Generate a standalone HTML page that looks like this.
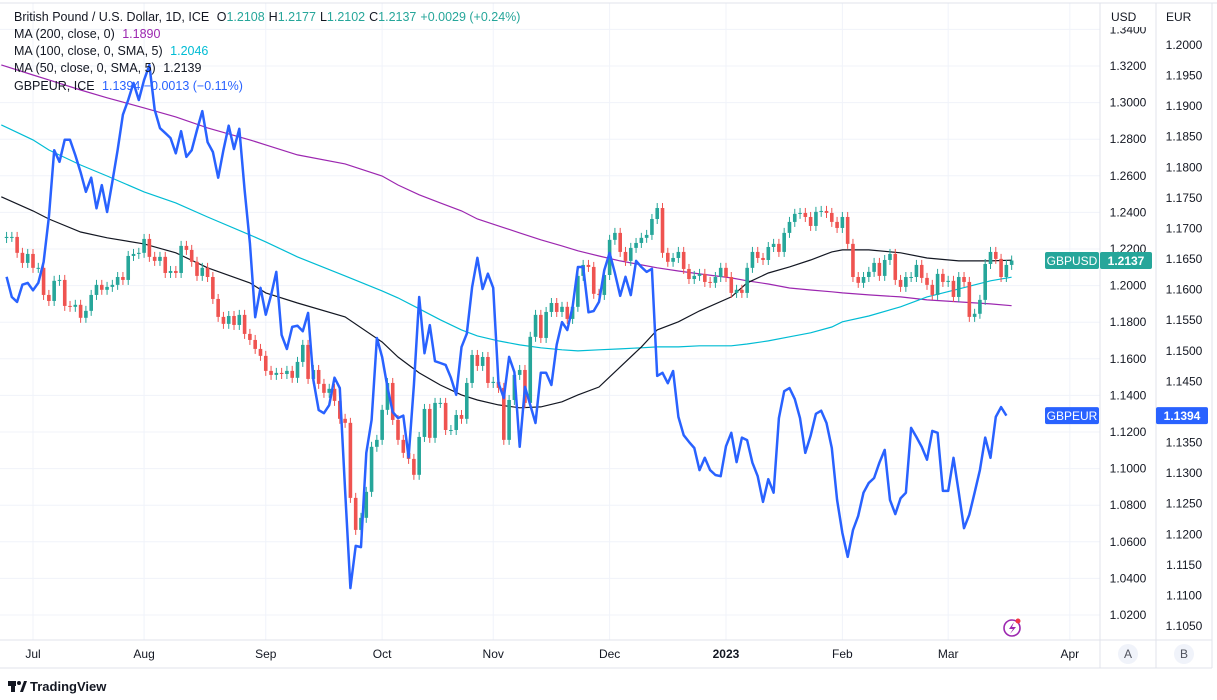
<!DOCTYPE html>
<html><head><meta charset="utf-8"><style>
html,body{margin:0;padding:0;background:#fff;}
svg{display:block;font-family:"Liberation Sans",sans-serif;}
</style></head><body>
<svg id="chart" width="1217" height="700" viewBox="0 0 1217 700" xmlns="http://www.w3.org/2000/svg">
<rect x="0" y="0" width="1217" height="700" fill="#fff"/>
<g id="grid"></g>
<g id="ma"></g>
<g id="candles"></g>
<g id="eur"></g>
<g id="axes"></g>
<g font-size="12.5" fill="#131722">
<text x="14" y="21">British Pound / U.S. Dollar, 1D, ICE <tspan dx="4">O</tspan><tspan fill="#26a69a">1.2108</tspan><tspan dx="4">H</tspan><tspan fill="#26a69a">1.2177</tspan><tspan dx="4">L</tspan><tspan fill="#26a69a">1.2102</tspan><tspan dx="4">C</tspan><tspan fill="#26a69a">1.2137</tspan><tspan dx="4" fill="#26a69a">+0.0029 (+0.24%)</tspan></text>
<text x="14" y="38">MA (200, close, 0) <tspan dx="4" fill="#9c27b0">1.1890</tspan></text>
<text x="14" y="55">MA (100, close, 0, SMA, 5) <tspan dx="4" fill="#00bcd4">1.2046</tspan></text>
<text x="14" y="72">MA (50, close, 0, SMA, 5) <tspan dx="4">1.2139</tspan></text>
<text x="14" y="90">GBPEUR, ICE <tspan dx="4" fill="#2962ff">1.1394 −0.0013 (−0.11%)</tspan></text>
</g>
<g>
<circle cx="1012" cy="628" r="8" fill="none" stroke="#9c27b0" stroke-width="1.6"/>
<path d="M1014 622 L1009 629 L1013 629 L1010 634 L1016 627 L1012 627 Z" fill="#9c27b0"/>
<circle cx="1018" cy="621" r="2.5" fill="#f23645"/>
</g>
<g>
<rect x="8" y="681" width="8" height="5" fill="#131722"/><rect x="11" y="686" width="4" height="6" fill="#131722"/><circle cx="19" cy="683" r="2" fill="#131722"/><path d="M20 692 L24 681 L27 681 L23 692 Z" fill="#131722"/>
<text x="30" y="691" font-size="13" fill="#131722" font-weight="bold">TradingView</text>
</g>
</svg>
<script>
const closes=[1.2266,1.2266,1.2179,1.2124,1.2173,1.2097,1.2097,1.1949,1.1916,1.2026,1.2031,1.1889,1.1884,1.1895,1.1824,1.1862,1.1949,1.2004,1.1977,1.1993,1.2004,1.2047,1.2031,1.2162,1.2173,1.2179,1.2255,1.2157,1.2135,1.2157,1.2069,1.2080,1.2069,1.2217,1.2195,1.2130,1.2053,1.2097,1.2047,1.1927,1.1829,1.1791,1.1834,1.1785,1.1840,1.1736,1.1703,1.1654,1.1616,1.1534,1.1512,1.1523,1.1517,1.1534,1.1496,1.1583,1.1676,1.1490,1.1539,1.1463,1.1414,1.1436,1.1370,1.1272,1.1250,
1.0840,1.0665,1.0731,1.0873,1.1119,1.1157,1.1321,1.1468,1.1266,1.1157,1.1086,1.1053,1.0966,1.1173,1.1326,1.1168,1.1359,1.1359,1.1211,1.1211,1.1293,1.1272,1.1468,1.1621,1.1561,1.1610,1.1468,1.1474,1.1441,1.1157,1.1375,1.1512,1.1539,1.1359,1.1720,1.1840,1.1714,1.1856,1.1905,1.1856,1.1884,1.1818,1.1884,1.2053,1.2113,1.2102,1.1955,1.1949,1.2058,1.2250,1.2288,1.2184,1.2135,1.2206,1.2233,1.2261,1.2277,1.2364,1.2424,1.2179,1.2130,1.2151,1.2184,1.2091,1.2036,1.2053,1.2064,
1.2020,1.2015,1.2047,1.2097,1.2047,1.1960,1.1977,1.1960,1.2097,1.2184,1.2151,1.2140,1.2211,1.2228,1.2184,1.2288,1.2348,1.2392,1.2397,1.2375,1.2326,1.2403,1.2408,1.2397,1.2348,1.2315,1.2375,1.2228,1.2047,1.2015,1.2047,1.2075,1.2124,1.2053,1.2140,1.2173,1.2031,1.1993,1.2047,1.2047,1.2113,1.2042,1.2004,1.1949,1.2064,1.2020,1.2026,1.1938,1.2047,1.2020,1.1829,1.1846,1.1922,1.2118,1.2184,1.2146,1.2047,1.2113,1.2137];
const firstOpen=1.2260;
const eurVals=[1.1621,1.1588,1.1580,1.1608,1.1611,1.1599,1.1611,1.1645,1.1719,1.1828,1.1809,1.1845,1.1845,1.1820,1.1792,1.1760,1.1783,1.1733,1.1771,1.1727,1.1776,1.1828,1.1886,1.1910,1.1938,1.1910,1.1943,1.1967,1.1894,1.1864,1.1856,1.1848,1.1823,1.1859,1.1817,1.1828,1.1861,1.1892,1.1841,1.1825,1.1783,1.1828,1.1868,1.1830,1.1863,1.1763,1.1676,1.1555,1.1603,1.1559,1.1591,1.1629,1.1526,1.1503,1.1539,1.1541,1.1532,1.1562,1.1452,1.1403,1.1398,1.1411,1.1456,1.1439,1.1272,1.1112,1.1181,1.1179,1.1333,1.1387,1.1521,1.1490,1.1441,1.1400,1.1390,1.1394,1.1326,1.1444,1.1588,1.1496,1.1542,1.1483,1.1480,1.1477,1.1456,1.1428,1.1506,1.1528,1.1604,1.1652,1.1601,1.1626,1.1603,1.1447,1.1423,1.1490,1.1465,1.1343,1.1441,1.1411,1.1382,1.1464,1.1464,1.1444,1.1510,1.1547,1.1534,1.1572,1.1637,1.1637,1.1563,1.1565,1.1580,1.1632,1.1660,1.1627,1.1590,1.1621,1.1591,1.1647,1.1637,1.1629,1.1634,1.1459,1.1464,1.1447,1.1467,1.1392,1.1362,1.1351,1.1341,1.1305,1.1325,1.1305,1.1297,1.1295,1.1344,1.1366,1.1318,1.1358,1.1354,1.1317,1.1295,1.1253,1.1290,1.1268,1.1390,1.1434,1.1439,1.1421,1.1390,1.1333,1.1361,1.1397,1.1402,1.1382,1.1341,1.1256,1.1202,1.1163,1.1207,1.1230,1.1268,1.1284,1.1292,1.1317,1.1338,1.1256,1.1233,1.1259,1.1268,1.1374,1.1359,1.1343,1.1322,1.1369,1.1366,1.1271,1.1271,1.1325,1.1268,1.1210,1.1232,1.1268,1.1305,1.1358,1.1325,1.1392,1.1408,1.1394];
const maIdx=[-1,5,8,14,19,26,32,38,46,49,55,64,71,74,78,82,86,89,93,97,101,105,108,112,116,120,123,127,131,137,140,144,148,152,156,158,163,169,174,180,186,190];
const ma50=[1.2485,1.2408,1.2364,1.2293,1.2261,1.2228,1.2179,1.2097,1.2015,1.1960,1.1905,1.1829,1.1692,1.1610,1.1523,1.1457,1.1403,1.1375,1.1348,1.1332,1.1337,1.1365,1.1403,1.1446,1.1556,1.1665,1.1758,1.1802,1.1862,1.1938,1.2015,1.2069,1.2102,1.2140,1.2184,1.2195,1.2195,1.2179,1.2151,1.2135,1.2135,1.2139];
const ma100=[1.2878,1.2796,1.2741,1.2659,1.2599,1.2512,1.2452,1.2375,1.2277,1.2239,1.2157,1.2053,1.1971,1.1933,1.1873,1.1813,1.1758,1.1725,1.1698,1.1676,1.1660,1.1649,1.1643,1.1649,1.1654,1.1660,1.1665,1.1665,1.1671,1.1671,1.1681,1.1698,1.1720,1.1742,1.1774,1.1802,1.1834,1.1884,1.1938,1.1982,1.2026,1.2046];
const ma200=[1.3206,1.3151,1.3124,1.3069,1.3026,1.2971,1.2922,1.2862,1.2796,1.2769,1.2714,1.2665,1.2599,1.2550,1.2496,1.2452,1.2408,1.2364,1.2326,1.2288,1.2250,1.2217,1.2190,1.2162,1.2135,1.2113,1.2097,1.2080,1.2064,1.2042,1.2026,1.2009,1.1987,1.1976,1.1966,1.1960,1.1949,1.1938,1.1922,1.1911,1.1900,1.1890];
const usdTicks=[1.34,1.32,1.30,1.28,1.26,1.24,1.22,1.20,1.18,1.16,1.14,1.12,1.10,1.08,1.06,1.04,1.02];
const eurTicks=[1.200,1.195,1.190,1.185,1.180,1.175,1.170,1.165,1.160,1.155,1.150,1.145,1.140,1.135,1.130,1.125,1.120,1.115,1.110,1.105];
const monthLabels=["Jul","Aug","Sep","Oct","Nov","Dec","2023","Feb","Mar","Apr"];
const monthIdx=[5,26,49,71,92,114,136,158,178,201];

const NS="http://www.w3.org/2000/svg";
const PR=1100;
const xB=i=>33+(i-5)*5.29;
const yU=v=>66+(1.32-v)*1830;
const yE=v=>45+(1.2-v)*6116;
function mk(tag,attrs,parent){const e=document.createElementNS(NS,tag);for(const k in attrs)e.setAttribute(k,attrs[k]);parent.appendChild(e);return e;}
const grid=document.getElementById('grid'),axes=document.getElementById('axes'),cg=document.getElementById('candles'),mg=document.getElementById('ma'),eg=document.getElementById('eur');

usdTicks.forEach(v=>{const y=yU(v);
 const l=mk('line',{x1:0,x2:PR,y1:y,y2:y,stroke:'#f0f3fa','stroke-width':1},grid);
 
 
 const t=mk('text',{x:1128,y:y+4,'text-anchor':'middle','font-size':12,fill:'#131722'},axes);
 t.textContent=v.toFixed(4);
 
 
});
eurTicks.forEach(v=>{const y=yE(v);
 const t=mk('text',{x:1184,y:y+4,'text-anchor':'middle','font-size':12,fill:'#131722'},axes);
 t.textContent=v.toFixed(4);
 
 
});
monthLabels.forEach((m,k)=>{const x=xB(monthIdx[k]);
 const l=mk('line',{x1:x,x2:x,y1:3,y2:640,stroke:'#f0f3fa','stroke-width':1},grid);
 
 
 const t=mk('text',{x:x,y:658,'text-anchor':'middle','font-size':12,fill:'#131722','font-weight':m==='2023'?'bold':'normal'},axes);
 t.textContent=m;
 
 
});
// header cover (clips top tick label)
const hc=mk('rect',{x:1101,y:4,width:110,height:23,fill:'#fff'},axes);


// frame lines
[[0,3,1217,3],[0,640,1212,640],[0,668,1212,668],[1100,3,1100,668],[1156,3,1156,668],[1212,3,1212,668]].forEach(c=>{
 const l=mk('line',{x1:c[0],y1:c[1],x2:c[2],y2:c[3],stroke:'#e0e3eb','stroke-width':1},axes);
 
 
});
// axis headers
[['USD',1111],['EUR',1166]].forEach(h=>{const t=mk('text',{x:h[1],y:21,'font-size':12,fill:'#131722'},axes);t.textContent=h[0];
 
 });
[['A',1128],['B',1184]].forEach(h=>{const g=mk('g',{},axes);
 
 
 mk('circle',{cx:h[1],cy:654,r:10,fill:'#f0f3fa'},g);
 const t=mk('text',{x:h[1],y:658,'text-anchor':'middle','font-size':12,fill:'#50535e'},g);t.textContent=h[0];});

// moving averages
function ln(vals,col,name){const d=maIdx.map((i,k)=>(k?'L':'M')+xB(i).toFixed(1)+' '+yU(vals[k]).toFixed(1)).join(' ');
 const p=mk('path',{d:d,fill:'none',stroke:col,'stroke-width':1.2},mg);
 
 }
ln(ma200,'#9c27b0','ma200-line');ln(ma100,'#00bcd4','ma100-line');ln(ma50,'#131722','ma50-line');

// candles
closes.forEach((c,i)=>{const o=i?closes[i-1]:firstOpen;const up=c>=o;const col=up?'#26a69a':'#ef5350';
 const x=xB(i);const top=yU(Math.max(o,c)),bot=yU(Math.min(o,c));
 const g=mk('g',{},cg);
 
 
 mk('line',{x1:x,x2:x,y1:top-5,y2:bot+5,stroke:col,'stroke-width':1},g);
 mk('rect',{x:x-1.8,y:top,width:3.6,height:Math.max(1,bot-top),fill:col},g);
});

// GBPEUR line
const d=eurVals.map((v,i)=>(i?'L':'M')+xB(i).toFixed(1)+' '+yE(v).toFixed(1)).join(' ');
const ep=mk('path',{d:d,fill:'none',stroke:'#2962ff','stroke-width':2.5,'stroke-linejoin':'round'},eg);



// price tags
function tag(y,col,name,val,vx,vw){const g=mk('g',{},axes);
 
 
 mk('rect',{x:1045,y:y-8.5,width:54,height:17,rx:2,fill:col},g);
 const t=mk('text',{x:1072,y:y+4.5,'text-anchor':'middle','font-size':12,fill:'#fff'},g);t.textContent=name;
 mk('rect',{x:vx,y:y-8.5,width:vw,height:17,rx:2,fill:col},g);
 const t2=mk('text',{x:vx+vw/2,y:y+4.5,'text-anchor':'middle','font-size':12,fill:'#fff','font-weight':'bold'},g);t2.textContent=val;}
tag(yU(closes[closes.length-1]),'#26a69a','GBPUSD',closes[closes.length-1].toFixed(4),1100,52);
tag(yE(eurVals[eurVals.length-1]),'#2962ff','GBPEUR',eurVals[eurVals.length-1].toFixed(4),1156,52);
</script>
</body></html>
